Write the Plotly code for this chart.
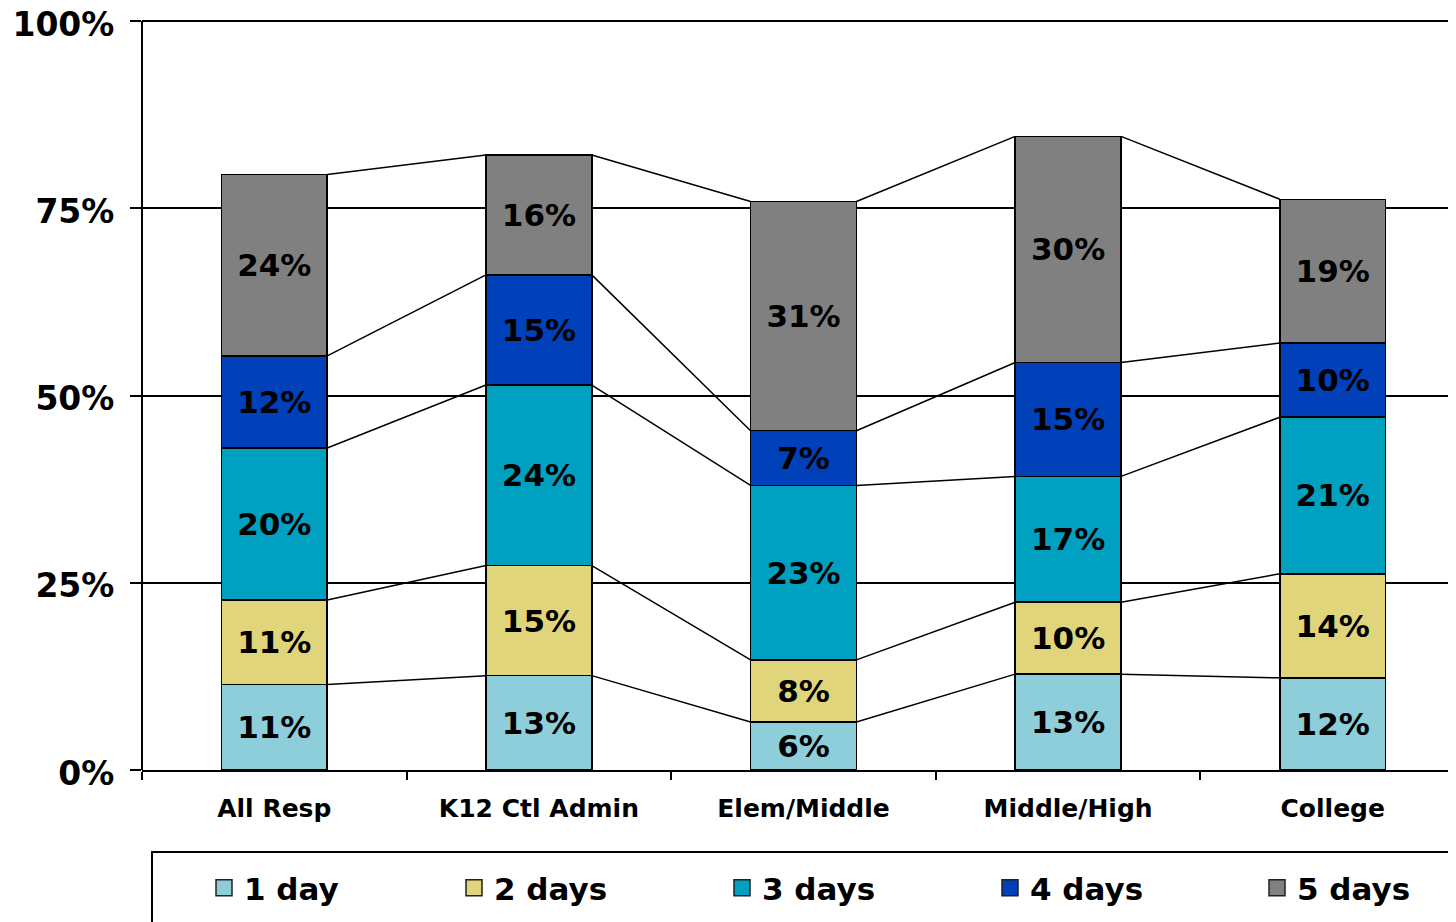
import plotly.graph_objects as go

categories = ["All Resp", "K12 Ctl Admin", "Elem/Middle", "Middle/High", "College"]
series_names = ["1 day", "2 days", "3 days", "4 days", "5 days"]
day1 = [11.4, 12.6, 6.4, 12.8, 12.3]
day2 = [11.3, 14.7, 8.3, 9.6, 13.9]
day3 = [20.3, 24.1, 23.3, 16.8, 20.9]
day4 = [12.3, 14.7, 7.3, 15.2, 9.9]
day5 = [24.2, 16.0, 30.6, 30.2, 19.2]
y_tick_vals = [0, 25, 50, 75, 100]
y_tick_text = ["0%", "25%", "50%", "75%", "100%"]
colors = ["#8ECDDA", "#E0D57A", "#00A0C0", "#0040B8", "#808080"]

series = [day1, day2, day3, day4, day5]

FONT = "DejaVu Sans"
BAR_W = 0.4
PAGE_OFF = 8                     # default body margin of the html page
Y_MAX = 100.4                    # a little headroom so the 100% grid line shows
PX_PER_UNIT = 7.49
W, H = 1456 - PAGE_OFF, 922 - PAGE_OFF
L = 142 - PAGE_OFF
ZERO = 770 - PAGE_OFF
plot_h = PX_PER_UNIT * Y_MAX
T = ZERO - plot_h
B = H - ZERO
plot_w = W - L
x_max = -0.5 + plot_w / 264.6


def px_x(page_x):
    return (page_x - PAGE_OFF - L) / plot_w


def px_y(page_y):
    return (ZERO - (page_y - PAGE_OFF)) / plot_h


fig = go.Figure()

# stacked bars
for name, vals, col in zip(series_names, series, colors):
    fig.add_trace(go.Bar(
        x=categories, y=vals, name=name, width=BAR_W,
        marker=dict(color=col, line=dict(color="black", width=1.5)),
        text=[f"{v:.0f}%" for v in vals],
        textposition="inside", insidetextanchor="middle", textangle=0,
        constraintext="none",
        textfont=dict(family=FONT, size=31, color="black", weight="bold"),
        showlegend=False, hoverinfo="skip",
    ))

# series lines connecting segment tops
cum = [0.0] * len(categories)
for vals in series:
    cum = [c + v for c, v in zip(cum, vals)]
    xs, ys = [], []
    for j in range(len(categories) - 1):
        xs += [j + BAR_W / 2, j + 1 - BAR_W / 2, None]
        ys += [cum[j], cum[j + 1], None]
    fig.add_trace(go.Scatter(x=xs, y=ys, xaxis="x2", mode="lines",
                             line=dict(color="black", width=1.5),
                             showlegend=False, hoverinfo="skip"))

# legend entries (one legend each, positioned like the original)
legend_centers_px = [224, 474, 742, 1010, 1277]
for k, (name, col) in enumerate(zip(series_names, colors)):
    lname = "legend" if k == 0 else f"legend{k+1}"
    fig.add_trace(go.Scatter(
        x=[None], y=[None], mode="markers", name=name, legend=lname,
        marker=dict(symbol="square", size=18, color=col,
                    line=dict(color="#202020", width=1.5)),
        showlegend=True,
    ))
    fig.layout[lname] = dict(
        x=px_x(legend_centers_px[k] - 20), xanchor="left",
        y=px_y(888), yanchor="middle",
        bgcolor="rgba(0,0,0,0)", borderwidth=0,
        font=dict(family=FONT, size=31, color="black", weight="bold"),
        itemclick=False, itemdoubleclick=False,
    )

# legend frame
fig.add_shape(type="rect", xref="paper", yref="paper",
              x0=px_x(152), x1=1.05,
              y0=px_y(852), y1=-0.3,
              line=dict(color="black", width=2), fillcolor="rgba(0,0,0,0)",
              layer="below")

fig.update_layout(
    width=W, height=H, autosize=False,
    margin=dict(l=L, r=0, t=T, b=B, pad=0, autoexpand=False),
    plot_bgcolor="white", paper_bgcolor="white",
    barmode="stack",
    font=dict(family=FONT, color="black"),
    xaxis=dict(
        type="category", range=[-0.5, x_max], tickson="boundaries",
        ticks="outside", ticklen=8, tickwidth=1.5, tickcolor="black",
        showline=True, linecolor="black", linewidth=2,
        showgrid=False, zeroline=False, automargin=False,
        tickfont=dict(family=FONT, size=25, color="black", weight="bold"),
        ticklabelstandoff=15,
    ),
    xaxis2=dict(overlaying="x", range=[-0.5, x_max], visible=False,
                type="linear"),
    yaxis=dict(
        range=[0, Y_MAX], tickvals=y_tick_vals, ticktext=y_tick_text,
        ticks="outside", ticklen=11, tickwidth=1.5, tickcolor="black",
        showline=False, zeroline=False, automargin=False,
        showgrid=True, gridcolor="black", gridwidth=1.8,
        tickfont=dict(family=FONT, size=33, color="black", weight="bold"),
        ticklabelstandoff=9, ticklabeloverflow="allow", ticklabelshift=3,
    ),
)

# vertical value axis line (from 0 to 100%)
fig.add_shape(type="line", xref="paper", yref="y", x0=0, x1=0,
              y0=y_tick_vals[0], y1=y_tick_vals[-1],
              line=dict(color="black", width=2))

fig.write_html("out.html", config={"displayModeBar": False})
